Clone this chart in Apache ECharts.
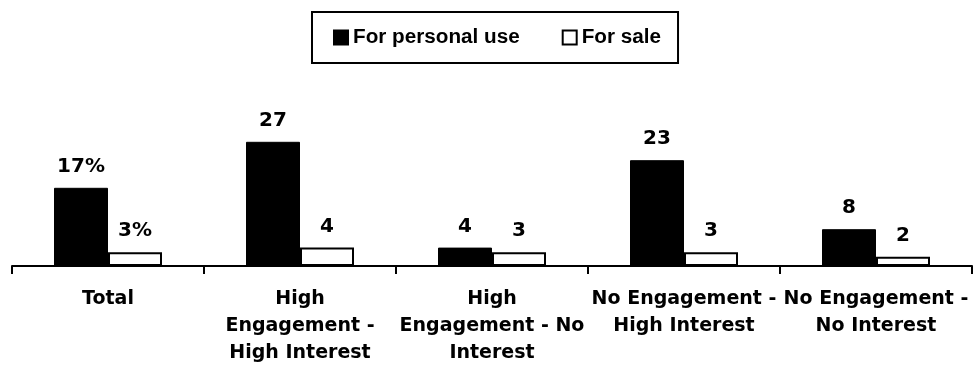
<!DOCTYPE html>
<html>
<head>
<meta charset="utf-8">
<script src="https://cdn.jsdelivr.net/npm/echarts@6/dist/echarts.min.js"></script>
<style>
  html, body { margin: 0; padding: 0; background: #fff; }
  #chart { width: 976px; height: 369px; }
</style>
</head>
<body>
<div id="chart"></div>
<script>
var categories = ['Total', 'High\nEngagement -\nHigh Interest', 'High\nEngagement - No\nInterest', 'No Engagement -\nHigh Interest', 'No Engagement -\nNo Interest'];
var personalUse = [17, 27, 4, 23, 8];
var forSale = [3, 4, 3, 3, 2];
var seriesNames = ['For personal use', 'For sale'];

var chart = echarts.init(document.getElementById('chart'));

function labelFmt(p) {
  // only the Total group carries a percent sign
  return p.dataIndex === 0 ? p.value + '%' : String(p.value);
}

var labelStyle = {
  show: true,
  position: 'top',
  distance: 11,
  color: '#000',
  fontFamily: 'DejaVu Sans',
  fontWeight: 'bold',
  fontSize: 20,
  formatter: labelFmt
};

var option = {
  animation: false,
  backgroundColor: '#fff',
  legend: {
    data: seriesNames,
    top: 12,
    left: 312,
    icon: 'rect',
    itemWidth: 14,
    itemHeight: 14,
    itemGap: 42,
    padding: [15, 17, 15, 21],
    borderColor: '#000',
    borderWidth: 2,
    textStyle: {
      color: '#000',
      fontFamily: 'Liberation Sans',
      fontWeight: 'bold',
      fontSize: 20.7
    }
  },
  grid: { left: 12, right: 4, top: 82, bottom: 103 },
  xAxis: {
    type: 'category',
    data: categories,
    axisLine: { lineStyle: { color: '#000', width: 2 } },
    axisTick: { show: true, length: 8, lineStyle: { color: '#000', width: 2 } },
    axisLabel: {
      color: '#000',
      fontFamily: 'DejaVu Sans',
      fontWeight: 'bold',
      fontSize: 19,
      lineHeight: 27,
      margin: 20,
      interval: 0
    }
  },
  yAxis: {
    type: 'value',
    min: 0,
    max: 40,
    show: false,
    splitLine: { show: false }
  },
  series: [
    {
      name: seriesNames[0],
      type: 'bar',
      data: personalUse,
      barWidth: 54,
      barGap: '0%',
      itemStyle: { color: '#000', borderColor: '#000', borderWidth: 1 },
      label: labelStyle
    },
    {
      name: seriesNames[1],
      type: 'bar',
      data: forSale,
      barWidth: 54,
      barGap: '0%',
      itemStyle: { color: '#fff', borderColor: '#000', borderWidth: 2 },
      label: labelStyle
    }
  ]
};

chart.setOption(option);
</script>
</body>
</html>
